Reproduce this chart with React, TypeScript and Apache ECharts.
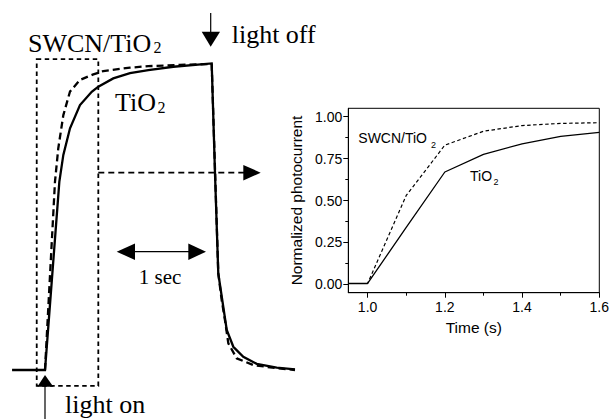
import React, { useEffect, useRef } from "react";
import * as echarts from "echarts";

// ---- Schematic pulse (left), time in s, current normalized to plateau ----
const tio2PulseTime = [-0.37, 0, 0.161, 0.206, 0.281, 0.393, 0.525, 0.599, 0.767, 0.955, 1.161, 1.442, 1.873, 1.91, 1.947, 2.042, 2.116, 2.228, 2.379, 2.603, 2.809];
const tio2PulseCurrent = [0, 0, 0.615, 0.703, 0.79, 0.866, 0.909, 0.926, 0.953, 0.97, 0.98, 0.991, 1.002, 0.643, 0.316, 0.131, 0.076, 0.043, 0.02, 0.0075, 0.002];
const swcnPulseTime = [0, 0.112, 0.149, 0.206, 0.281, 0.393, 0.543, 0.655, 0.955, 1.161, 1.517, 1.873, 1.947, 1.985, 2.022, 2.06, 2.154, 2.34, 2.603, 2.809];
const swcnPulseCurrent = [0, 0.615, 0.724, 0.833, 0.91, 0.948, 0.966, 0.977, 0.988, 0.993, 0.997, 1.0, 0.316, 0.229, 0.163, 0.087, 0.038, 0.016, 0.006, 0];

// ---- Inset ----
const insetTime = [0.95, 1.0, 1.1, 1.2, 1.3, 1.4, 1.5, 1.6];
const insetTiO2 = [0.005, 0.005, 0.34, 0.67, 0.775, 0.838, 0.883, 0.907];
const insetSWCN = [0.005, 0.005, 0.53, 0.83, 0.913, 0.947, 0.96, 0.964];
const xMajorTicks = [1.0, 1.2, 1.4, 1.6];
const xMinorTicks = [1.1, 1.3, 1.5];
const yMajorTicks = [0, 0.25, 0.5, 0.75, 1.0];
const yMinorTicks = [0.125, 0.375, 0.625, 0.875];

const SERIF = "'Liberation Serif', 'Times New Roman', serif";
const SANS = "'Liberation Sans', Arial, sans-serif";

const zip = (a: number[], b: number[]) => a.map((v, i) => [v, b[i]]);

export default function App() {
  const ref = useRef<HTMLDivElement>(null);
  useEffect(() => {
    const chart = echarts.init(ref.current!, null, { renderer: "svg" });
    const insetRect = { left: 348.3, top: 108.3, width: 251, height: 184.4 };
    const txt = (x: number, y: number, text: string, size: number, family: string, align = "left") => ({
      type: "text",
      x,
      y,
      silent: true,
      style: {
        text,
        fill: "#000",
        font: `${size}px ${family}`,
        fontSize: size,
        fontFamily: family,
        align,
        textAlign: align,
        verticalAlign: "middle",
        textVerticalAlign: "middle",
      },
    });
    const tri = (pts: number[][]) => ({ type: "polygon", silent: true, shape: { points: pts }, style: { fill: "#000" } });
    const seg = (x1: number, y1: number, x2: number, y2: number, w = 1.2, dash?: number[]) => ({
      type: "line",
      silent: true,
      shape: { x1, y1, x2, y2 },
      style: { stroke: "#000", lineWidth: w, lineDash: dash },
    });
    const tickText = { color: "#000", fontSize: 14, fontFamily: SANS };
    const nameText = { color: "#000", fontSize: 15.5, fontFamily: SANS };
    const option: any = {
      animation: false,
      backgroundColor: "#fff",
      grid: [
        { left: 9.4, top: 2.8, width: 302.6, height: 428.4, show: false, outerBoundsMode: "none" },
        { ...insetRect, show: true, borderColor: "#000", borderWidth: 1, backgroundColor: "transparent", outerBoundsMode: "none" },
        { ...insetRect, show: false, outerBoundsMode: "none" },
      ],
      xAxis: [
        { gridIndex: 0, type: "value", min: -0.4, max: 3.0, show: false },
        {
          gridIndex: 1,
          type: "value",
          min: 0.95,
          max: 1.6,
          position: "bottom",
          axisLine: { show: true, onZero: false, lineStyle: { color: "#000", width: 1 } },
          axisTick: { show: true, inside: false, length: 5, customValues: xMajorTicks, lineStyle: { color: "#000" } },
          axisLabel: { customValues: xMajorTicks, formatter: (v: number) => v.toFixed(1), margin: 7, ...tickText },
          splitLine: { show: false },
          name: "Time (s)",
          nameLocation: "middle",
          nameGap: 27,
          nameTextStyle: nameText,
        },
        {
          gridIndex: 2,
          type: "value",
          min: 0.95,
          max: 1.6,
          position: "bottom",
          axisLine: { show: false, onZero: false },
          axisTick: { show: true, inside: false, length: 3, customValues: xMinorTicks, lineStyle: { color: "#000" } },
          axisLabel: { show: false },
          splitLine: { show: false },
        },
      ],
      yAxis: [
        { gridIndex: 0, type: "value", min: -0.2, max: 1.2, show: false },
        {
          gridIndex: 1,
          type: "value",
          min: -0.05,
          max: 1.05,
          position: "left",
          axisLine: { show: true, onZero: false, lineStyle: { color: "#000", width: 1 } },
          axisTick: { show: true, inside: false, length: 5, customValues: yMajorTicks, lineStyle: { color: "#000" } },
          axisLabel: { customValues: yMajorTicks, formatter: (v: number) => v.toFixed(2), margin: 6, ...tickText },
          splitLine: { show: false },
          name: "Normalized photocurrent",
          nameLocation: "middle",
          nameGap: 44,
          nameTextStyle: nameText,
        },
        {
          gridIndex: 2,
          type: "value",
          min: -0.05,
          max: 1.05,
          position: "left",
          axisLine: { show: false, onZero: false },
          axisTick: { show: true, inside: false, length: 3, customValues: yMinorTicks, lineStyle: { color: "#000" } },
          axisLabel: { show: false },
          splitLine: { show: false },
        },
      ],
      series: [
        {
          name: "TiO2 pulse",
          type: "line",
          xAxisIndex: 0,
          yAxisIndex: 0,
          data: zip(tio2PulseTime, tio2PulseCurrent),
          symbol: "none",
          lineStyle: { color: "#000", width: 2.3, join: "miter" },
          markArea: {
            silent: true,
            label: { show: false },
            itemStyle: { color: "rgba(0,0,0,0)", borderColor: "#000", borderWidth: 1.8, borderType: [4.5, 3.5] },
            data: [[{ coord: [-0.093, 1.016] }, { coord: [0.599, -0.052] }]],
          },
        },
        {
          name: "SWCN/TiO2 pulse",
          type: "line",
          xAxisIndex: 0,
          yAxisIndex: 0,
          data: zip(swcnPulseTime, swcnPulseCurrent),
          symbol: "none",
          lineStyle: { color: "#000", width: 2.3, type: [7, 4] },
        },
        {
          name: "TiO2",
          type: "line",
          xAxisIndex: 1,
          yAxisIndex: 1,
          data: zip(insetTime, insetTiO2),
          symbol: "none",
          lineStyle: { color: "#000", width: 1.3 },
        },
        {
          name: "SWCN/TiO2",
          type: "line",
          xAxisIndex: 1,
          yAxisIndex: 1,
          data: zip(insetTime, insetSWCN),
          symbol: "none",
          lineStyle: { color: "#000", width: 1.2, type: [3.5, 2.5] },
        },
      ],
      graphic: [
        // big labels
        txt(28, 43.5, "SWCN/TiO", 26, SERIF),
        txt(153.5, 47.9, "2", 16, SERIF),
        txt(231.7, 34.5, "light off", 26, SERIF),
        txt(115, 102.2, "TiO", 26, SERIF),
        txt(157.5, 107.6, "2", 16, SERIF),
        txt(160, 277.4, "1 sec", 21, SERIF, "center"),
        txt(65, 404.2, "light on", 26, SERIF),
        // inset labels
        txt(358.3, 138.4, "SWCN/TiO", 14, SANS),
        txt(431, 145.2, "2", 9, SANS),
        txt(470, 175.9, "TiO", 14, SANS),
        txt(493.5, 182, "2", 9, SANS),
        // light off arrow
        seg(210.7, 13, 210.7, 33),
        tri([[201.7, 31.7], [220, 31.7], [210.7, 46.7]]),
        // light on arrow
        seg(45, 385, 45, 419),
        tri([[37.3, 386.7], [53.3, 386.7], [45, 375]]),
        // zoom arrow
        seg(98.3, 172.7, 244, 172.7, 1.7, [6, 4]),
        tri([[243.3, 164.9], [243.3, 180.5], [260.7, 172.7]]),
        // 1 sec arrow
        seg(134, 251.7, 189, 251.7, 1.3),
        tri([[116.7, 251.7], [135, 243.4], [135, 260]]),
        tri([[206, 251.7], [188.3, 243.4], [188.3, 260]]),
      ],
    };
    chart.setOption(option);
    return () => chart.dispose();
  }, []);
  return <div ref={ref} style={{ position: "absolute", left: 0, top: 0, width: 610, height: 419, background: "#fff" }} />;
}
